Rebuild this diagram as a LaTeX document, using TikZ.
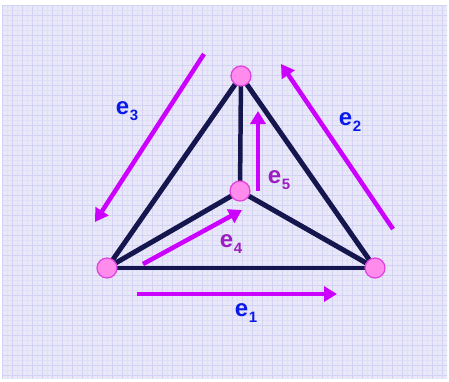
\documentclass[tikz,border=0pt]{standalone}
\usepackage{fontspec}
\setmainfont{Liberation Sans}
\usetikzlibrary{arrows.meta}
\definecolor{bgpaper}{HTML}{E9E8F8}
\definecolor{gridc}{HTML}{D4D2F2}
\definecolor{gridf}{HTML}{E2E0F6}
\definecolor{navy}{HTML}{16164F}
\definecolor{mag}{HTML}{CC00FF}
\definecolor{lblblue}{HTML}{0A1AE8}
\definecolor{lblpurp}{HTML}{9A1EC0}
\definecolor{vfill}{HTML}{FF8CEC}
\definecolor{vdraw}{HTML}{E040E0}
\newcommand{\esub}[1]{e\kern0.5pt\raisebox{-6pt}{\fontsize{15}{15}\selectfont #1}}
\tikzset{
  vert/.style={circle, fill=vfill, draw=vdraw, line width=1.2pt, minimum size=20pt, inner sep=0pt},
  edge/.style={navy, line width=5pt},
  vec/.style={mag, line width=4.5pt, -{Triangle[length=13pt,width=15pt]}},
  lblb/.style={text=lblblue, font=\fontsize{24}{24}\selectfont\bfseries, inner sep=0pt},
  lblp/.style={text=lblpurp, font=\fontsize{24}{24}\selectfont\bfseries, inner sep=0pt}
}
\begin{document}
\begin{tikzpicture}[x=1pt,y=-1pt]
\useasboundingbox (0,0) rectangle (449,381);
\fill[white] (0,0) rectangle (449,381);
\fill[bgpaper] (2,5) rectangle (447,379);
\begin{scope}
\clip (2,5) rectangle (447,379);
\foreach \i in {0,...,45} {
  \draw[gridf, line width=0.5pt] ({7+10*\i},5) -- ({7+10*\i},379);
}
\foreach \j in {0,...,38} {
  \draw[gridf, line width=0.5pt] (2,{10+10*\j}) -- (447,{10+10*\j});
}
\foreach \i in {0,...,45} {
  \draw[gridc, line width=0.7pt] ({2+10*\i},5) -- ({2+10*\i},379);
}
\foreach \j in {0,...,38} {
  \draw[gridc, line width=0.7pt] (2,{5+10*\j}) -- (447,{5+10*\j});
}
\end{scope}
% vertices positions
\coordinate (T) at (241,76);
\coordinate (C) at (240,191);
\coordinate (L) at (107,268);
\coordinate (R) at (375,268);
% edges
\draw[edge] (T) -- (L);
\draw[edge] (T) -- (R);
\draw[edge, line width=4.5pt] (T) -- (C);
\draw[edge] (C) -- (L);
\draw[edge] (C) -- (R);
\draw[edge, line width=3.8pt] (L) -- (R);
% vertices
\node[vert] (vT) at (T) {};
\node[vert] (vC) at (C) {};
\node[vert] (vL) at (L) {};
\node[vert] (vR) at (R) {};
% vectors
\coordinate (a1s) at (137,294); \coordinate (a1e) at (337,294);
\coordinate (a2s) at (393,229); \coordinate (a2e) at (281,64);
\coordinate (a3s) at (204,54);  \coordinate (a3e) at (95,222);
\coordinate (a4s) at (143,264); \coordinate (a4e) at (242,210);
\coordinate (a5s) at (258,191); \coordinate (a5e) at (258,111);
\draw[vec] (a1s) -- (a1e);
\draw[vec] (a2s) -- (a2e);
\draw[vec] (a3s) -- (a3e);
\draw[vec] (a4s) -- (a4e);
\draw[vec] (a5s) -- (a5e);
% labels
\node[lblb] (l1) at (246,313) {\esub{1}};
\node[lblb] (l2) at (350,122) {\esub{2}};
\node[lblb] (l3) at (127,111) {\esub{3}};
\node[lblp] (l4) at (231,244) {\esub{4}};
\node[lblp] (l5) at (279,180) {\esub{5}};
\end{tikzpicture}
\end{document}
